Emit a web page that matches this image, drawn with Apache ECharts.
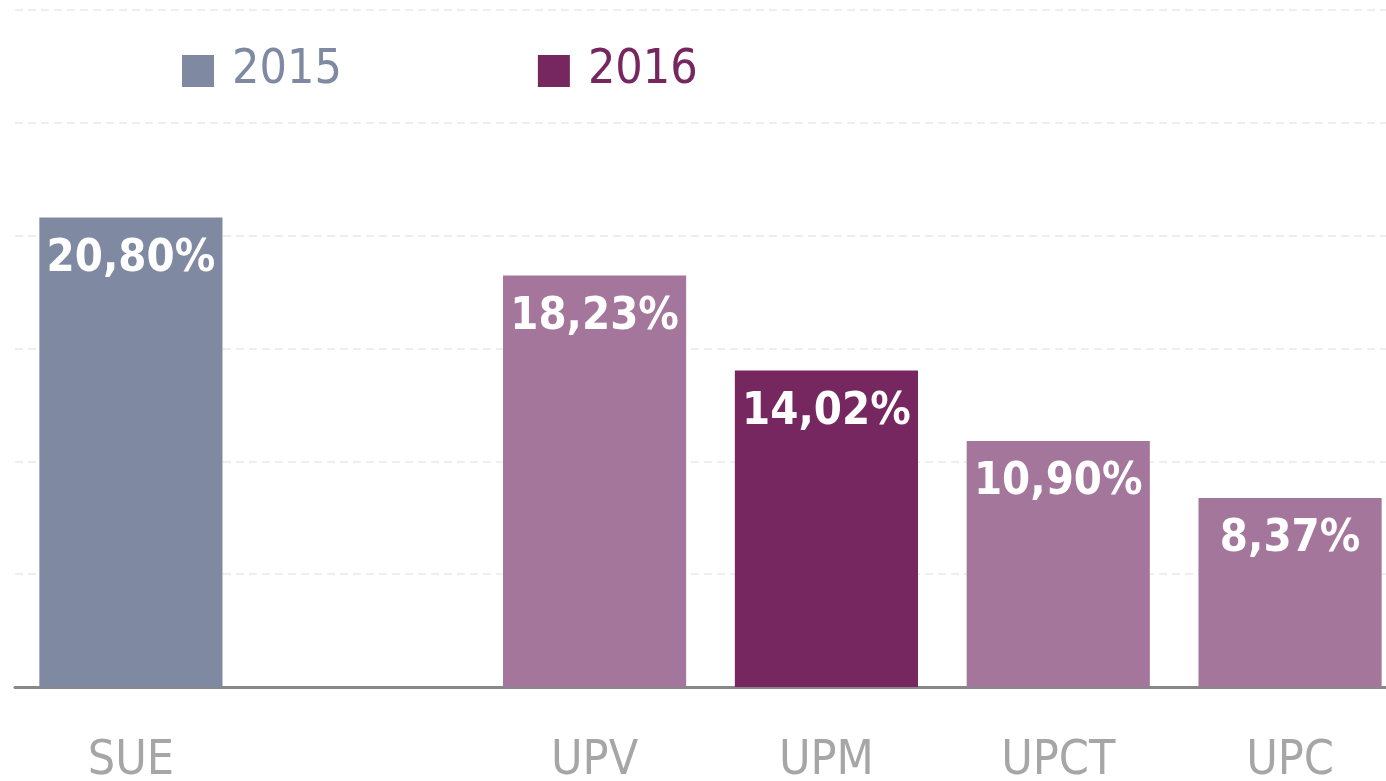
<!DOCTYPE html>
<html>
<head>
<meta charset="utf-8">
<script src="https://cdn.jsdelivr.net/npm/echarts@6/dist/echarts.min.js"></script>
<style>
  html, body { margin: 0; padding: 0; background: #fff; overflow: hidden; }
  #chart { width: 1386px; height: 781px; }
</style>
</head>
<body>
<div id="chart"></div>
<script>
// categories (blank slot between SUE and the universities)
const categories = ['SUE', '', 'UPV', 'UPM', 'UPCT', 'UPC']
const values2015 = [20.80, '-', '-', '-', '-', '-']
const values2016 = ['-', '-', 18.23, 14.02, 10.90, 8.37]
const highlight2016 = 'UPM'

const col2015 = '#7f89a1'
const col2016 = '#76275f'
const col2016Light = '#a5769b'
const font = '"DejaVu Sans Condensed", "DejaVu Sans", sans-serif'

const chart = echarts.init(document.getElementById('chart'))

const labelOpt = {
  show: true,
  position: 'insideTop',
  distance: 19,
  color: '#fff',
  fontFamily: font,
  fontWeight: 'bold',
  fontSize: 45,
  formatter: p => p.value.toFixed(2).replace('.', ',') + '%'
}

const option = {
  animation: false,
  backgroundColor: '#fff',
  legend: {
    left: 182,
    top: 47,
    padding: 0,
    itemWidth: 32,
    itemHeight: 32,
    itemGap: 196,
    icon: 'rect',
    textStyle: { fontFamily: font, fontSize: 48, padding: [0, 0, 0, 13] },
    data: [
      { name: '2015', textStyle: { color: col2015 } },
      { name: '2016', textStyle: { color: col2016 } }
    ]
  },
  // last slot runs off the right edge, as in the source
  grid: { left: 15, top: 10, width: 1391, height: 677, containLabel: false, outerBoundsMode: 'none' },
  xAxis: {
    type: 'category',
    data: categories,
    axisLine: { lineStyle: { color: '#888', width: 3 } },
    axisTick: { show: false },
    axisLabel: { color: '#a6a6a6', fontFamily: font, fontSize: 48, margin: 51 }
  },
  yAxis: {
    type: 'value',
    min: 0,
    max: 30,
    interval: 5,
    axisLabel: { show: false },
    axisLine: { show: false },
    axisTick: { show: false },
    splitLine: { lineStyle: { color: '#eeeeee', width: 2, type: [8, 5] } }
  },
  series: [
    {
      name: '2015',
      type: 'bar',
      stack: 'a',
      barWidth: '79%',
      itemStyle: { color: col2015 },
      label: labelOpt,
      data: values2015
    },
    {
      name: '2016',
      type: 'bar',
      stack: 'a',
      barWidth: '79%',
      itemStyle: { color: col2016 },
      label: labelOpt,
      data: values2016.map((v, i) => ({
        value: v,
        itemStyle: { color: categories[i] === highlight2016 ? col2016 : col2016Light }
      }))
    }
  ]
}

chart.setOption(option)
</script>
</body>
</html>
